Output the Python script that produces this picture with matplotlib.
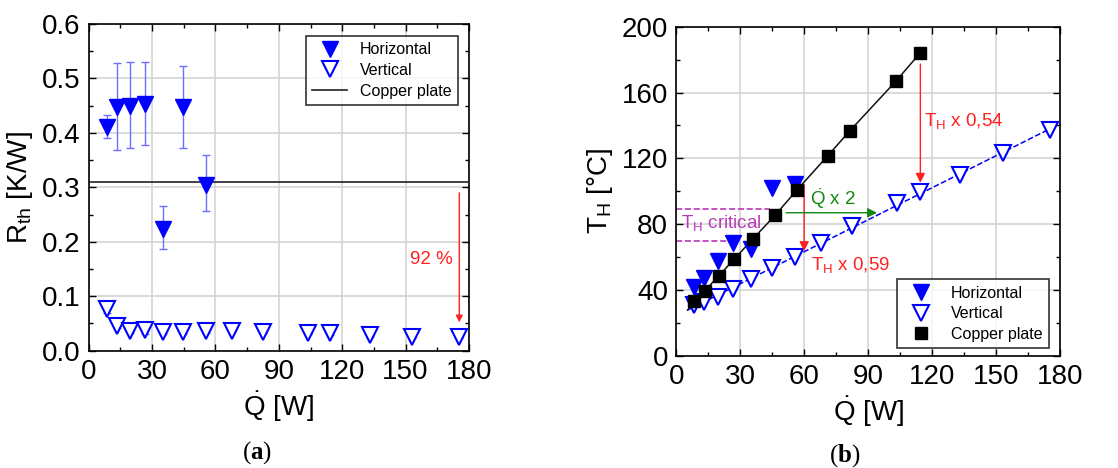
import numpy as np
import matplotlib
matplotlib.use("Agg")
import matplotlib.pyplot as plt
from matplotlib.ticker import MultipleLocator, FormatStrFormatter

plt.rcParams["font.family"] = ["Liberation Sans", "DejaVu Sans"]
plt.rcParams["mathtext.fontset"] = "custom"
plt.rcParams["mathtext.rm"] = "Liberation Sans"
plt.rcParams["mathtext.it"] = "Liberation Sans:italic"
plt.rcParams["mathtext.bf"] = "Liberation Serif:bold"

BLUE = "#0000ff"
ERRBLUE = "#6f6fff"
RED = "#ff2020"
GREEN = "#118811"
PURPLE = "#b83ab8"

# (a) thermal resistance
q_hor = [8.5, 13.2, 19.5, 26.6, 35.0, 44.8, 55.5]
r_hor = [0.410, 0.447, 0.450, 0.453, 0.224, 0.447, 0.305]
r_hor_lo = [0.390, 0.368, 0.373, 0.377, 0.186, 0.372, 0.256]
r_hor_hi = [0.432, 0.529, 0.530, 0.530, 0.265, 0.522, 0.359]

q_ver = [8.5, 13.2, 19.5, 26.6, 35.0, 44.8, 55.5, 68.0, 82.3, 103.6, 114.2, 133.0, 153.2, 175.4]
r_ver = [0.076, 0.046, 0.036, 0.038, 0.034, 0.034, 0.036, 0.037, 0.035, 0.033, 0.032, 0.028, 0.026, 0.026]
r_ver_lo = [0.070, 0.042, 0.032, 0.030, 0.030, 0.031, 0.032, 0.034, 0.032, 0.030, 0.029, 0.025, 0.023, 0.023]
r_ver_hi = [0.090, 0.050, 0.046, 0.051, 0.038, 0.038, 0.040, 0.040, 0.038, 0.036, 0.035, 0.031, 0.029, 0.029]
r_copper = 0.309

# (b) heater temperature
t_hor = [41.7, 47.2, 57.7, 68.4, 64.8, 102.2, 104.3]
t_ver = [31.0, 33.0, 36.0, 40.5, 46.6, 53.6, 59.9, 68.8, 79.0, 93.1, 99.4, 109.9, 123.1, 137.3]
q_cu = [8.4, 13.4, 19.9, 27.2, 35.8, 46.3, 56.6, 71.0, 81.3, 103.1, 114.5]
t_cu = [33.4, 39.7, 48.6, 58.9, 70.9, 85.4, 100.8, 121.5, 136.6, 167.0, 184.2]
cu_line_start = (5.3, 27.9)
t_crit = [70.0, 89.5]

FS = 20


def style_axes(ax, ymajor, yminor):
    ax.xaxis.set_major_locator(MultipleLocator(30))
    ax.xaxis.set_minor_locator(MultipleLocator(15))
    ax.yaxis.set_major_locator(MultipleLocator(ymajor))
    ax.yaxis.set_minor_locator(MultipleLocator(yminor))
    ax.tick_params(which="both", direction="in", top=True, right=True, width=1, labelsize=FS, pad=6)
    ax.tick_params(which="major", length=5)
    ax.tick_params(which="minor", length=3)
    ax.grid(True, which="major", color="#d4d4d4", lw=1.2, zorder=0)
    ax.set_axisbelow(True)
    for s in ax.spines.values():
        s.set_linewidth(1.2)


fig = plt.figure(figsize=(11.18, 4.68), dpi=100)
ax1 = fig.add_axes([0.0793, 0.2506, 0.3402, 0.6981])
ax2 = fig.add_axes([0.6049, 0.2393, 0.3432, 0.7037])

# ---- panel a
ax1.errorbar(q_hor, r_hor,
             yerr=[np.subtract(r_hor, r_hor_lo), np.subtract(r_hor_hi, r_hor)],
             fmt="none", ecolor=ERRBLUE, elinewidth=1, capsize=3, zorder=2)
ax1.errorbar(q_ver, r_ver,
             yerr=[np.subtract(r_ver, r_ver_lo), np.subtract(r_ver_hi, r_ver)],
             fmt="none", ecolor=ERRBLUE, elinewidth=1, capsize=3, zorder=2)
ax1.axhline(r_copper, color="#222222", lw=1.2, zorder=3, label="Copper plate")
ax1.plot(q_hor, r_hor, "v", color=BLUE, ms=11, ls="none", zorder=4, label="Horizontal")
ax1.plot(q_ver, r_ver, "v", mfc="white", mec=BLUE, mew=1.5, ms=11, ls="none", zorder=4, label="Vertical")
ax1.annotate("", xy=(q_ver[-1], 0.047), xytext=(q_ver[-1], 0.295),
             arrowprops=dict(arrowstyle="-|>", color=RED, lw=1, mutation_scale=10))
ax1.text(162, 0.168, "92 %", color=RED, fontsize=13.5, ha="center", va="center")
ax1.set_xlim(0, 180)
ax1.set_ylim(0, 0.6)
style_axes(ax1, 0.1, 0.05)
ax1.yaxis.set_major_formatter(FormatStrFormatter("%.1f"))
ax1.set_xlabel(r"$\mathrm{\dot{Q}}$ [W]", fontsize=FS, labelpad=3)
ax1.set_ylabel(r"R$_\mathrm{th}$ [K/W]", fontsize=FS, labelpad=5)
h, l = ax1.get_legend_handles_labels()
order = [1, 2, 0]
leg1 = ax1.legend([h[i] for i in order], [l[i] for i in order], loc="upper right",
                  bbox_to_anchor=(0.971, 0.963), borderaxespad=0, fontsize=11.5, frameon=True,
                  fancybox=False, edgecolor="black", borderpad=0.4, handlelength=2.2,
                  labelspacing=0.35)
leg1.get_frame().set_linewidth(1.2)

# ---- panel b
fit = np.polyfit(q_ver, t_ver, 1)
qf = np.array([5.3, 178.5])
ax2.plot(qf, np.polyval(fit, qf), "--", color=BLUE, lw=1.1, zorder=2)
ax2.plot([cu_line_start[0]] + q_cu, [cu_line_start[1]] + t_cu, "-", color="#111111", lw=1.1, zorder=2)
ax2.plot(q_hor, t_hor, "v", color=BLUE, ms=11, ls="none", zorder=3, label="Horizontal")
ax2.plot(q_ver, t_ver, "v", mfc="white", mec=BLUE, mew=1.5, ms=11, ls="none", zorder=3, label="Vertical")
ax2.plot(q_cu, t_cu, "s", color="black", ms=8, ls="none", zorder=4, label="Copper plate")

ax2.plot([0, 44], [t_crit[1], t_crit[1]], "--", color=PURPLE, lw=1.2, zorder=2)
ax2.plot([0, 25.2], [t_crit[0], t_crit[0]], "--", color=PURPLE, lw=1.2, zorder=2)
ax2.text(2.2, 80.5, r"T$_\mathrm{H}$ critical", color=PURPLE, fontsize=13.5, ha="left", va="center")

ax2.annotate("", xy=(114.5, 103.5), xytext=(114.5, 179),
             arrowprops=dict(arrowstyle="-|>", color=RED, lw=1, mutation_scale=14))
ax2.text(116.3, 142.5, r"T$_\mathrm{H}$ x 0,54", color=RED, fontsize=13.5, ha="left", va="center")
ax2.annotate("", xy=(60, 62), xytext=(60, 105.5),
             arrowprops=dict(arrowstyle="-|>", color=RED, lw=1, mutation_scale=14))
ax2.text(63.3, 55.5, r"T$_\mathrm{H}$ x 0,59", color=RED, fontsize=13.5, ha="left", va="center")
ax2.annotate("", xy=(95.5, 87), xytext=(50.2, 87),
             arrowprops=dict(arrowstyle="-|>", color=GREEN, lw=1, mutation_scale=14))
ax2.text(62.5, 95.5, r"$\mathrm{\dot{Q}}$ x 2", color=GREEN, fontsize=13.5, ha="left", va="center")

ax2.set_xlim(0, 180)
ax2.set_ylim(0, 200)
style_axes(ax2, 40, 20)
ax2.set_xlabel(r"$\mathrm{\dot{Q}}$ [W]", fontsize=FS, labelpad=3)
ax2.set_ylabel(r"T$_\mathrm{H}$ [°C]", fontsize=FS, labelpad=5)
leg2 = ax2.legend(loc="lower right", bbox_to_anchor=(0.972, 0.023), borderaxespad=0, fontsize=11.5,
                  frameon=True, fancybox=False, edgecolor="black", borderpad=0.4, handlelength=2.2,
                  labelspacing=0.35)
leg2.get_frame().set_linewidth(1.2)

fig.text(0.2299, 0.034, r"($\mathbf{a}$)", fontsize=18, family="Liberation Serif", ha="center", va="center")
fig.text(0.7558, 0.027, r"($\mathbf{b}$)", fontsize=18, family="Liberation Serif", ha="center", va="center")

fig.savefig("out.png", dpi=100)
